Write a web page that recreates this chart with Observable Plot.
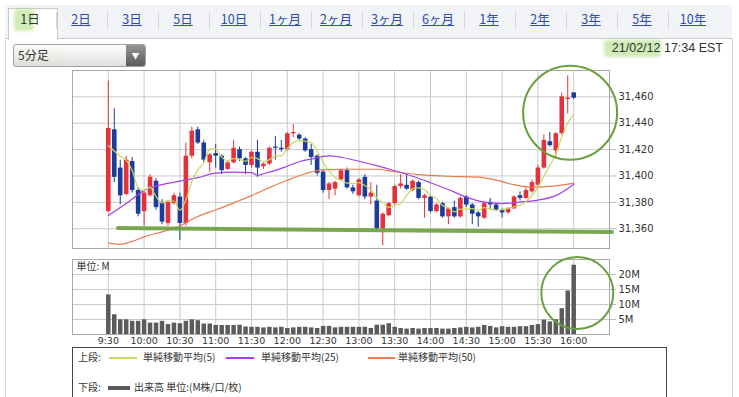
<!DOCTYPE html>
<html><head><meta charset="utf-8">
<script src="https://cdn.jsdelivr.net/npm/d3@7"></script>
<script src="https://cdn.jsdelivr.net/npm/@observablehq/plot@0.6"></script>
<style>
body{margin:0;width:739px;height:397px;overflow:hidden;position:relative;background:#fff;font-family:"Noto Sans CJK JP","Noto Sans",sans-serif;color:#333;}
.abs{position:absolute;}
#tabbar{left:5px;top:5px;width:727px;height:33px;background:#f1f3f6;border-bottom:1px solid #c9c9c9;}
.tab{position:absolute;top:11px;font-size:12.5px;line-height:16px;color:#2c4cae;text-decoration:underline;transform:translateX(-50%);white-space:nowrap;}
.sep{position:absolute;top:12px;width:1px;height:17px;background:#d3d6db;}
.hl{position:absolute;background:rgba(150,210,90,0.45);filter:blur(1.5px);border-radius:4px;}
#legend{left:72px;top:347px;width:593px;height:60px;border:1px solid #444;font-size:10px;color:#333;}
#legend span{position:absolute;white-space:nowrap;line-height:12px;}
#legend i{position:absolute;display:block;}
#err{position:absolute;left:80px;top:100px;font-size:11px;color:red;}
</style></head>
<body>
<div id="price" class="abs" style="left:0;top:40px;"></div>
<div id="vol" class="abs" style="left:0;top:252px;"></div>

<div class="abs" style="left:5px;top:38px;width:1px;height:359px;background:#dcdcdc"></div>
<div class="abs" style="left:732px;top:38px;width:1px;height:359px;background:#d0d0d0"></div>
<div id="tabbar" class="abs"></div>
<div class="abs" style="left:8px;top:8px;width:48px;height:31px;background:#fff;border:1px solid #c9c9c9;border-bottom:none;"></div>
<div class="hl" style="left:14px;top:9px;width:20px;height:22px;"></div>
<div id="tabs"></div>

<div class="hl" style="left:14px;top:46px;width:48px;height:20px;"></div>
<div class="abs" style="left:13px;top:44px;width:131px;height:21px;border:1px solid #9a9a9a;border-radius:3px;background:linear-gradient(#fdfdfd,#dedede);opacity:0.92">
  <div class="abs" style="right:0;top:0;width:19px;height:21px;background:linear-gradient(#8c8c8c,#4e4e4e);border-radius:0 2px 2px 0;color:#fff;font-size:8px;line-height:21px;text-align:center;">▼</div>
</div>
<div class="abs" style="left:18px;top:47px;font-size:12px;line-height:16px;color:#333;">5分足</div>

<div class="hl" style="left:604px;top:40px;width:57px;height:17px;"></div>
<div class="abs" style="right:16px;top:40px;font-family:'Liberation Sans',Arial,sans-serif;font-size:12.5px;line-height:16px;color:#333;">21/02/12 17:34 EST</div>

<div id="legend" class="abs">
  <span style="left:5px;top:3px">上段:</span>
  <i style="left:36px;top:9px;width:28px;height:1.5px;background:#c8d860"></i>
  <span style="left:70px;top:3px">単純移動平均(5)</span>
  <i style="left:153px;top:9px;width:28px;height:1.5px;background:#a341e6"></i>
  <span style="left:188px;top:3px">単純移動平均(25)</span>
  <i style="left:295px;top:9px;width:27px;height:1.5px;background:#ea7b4c"></i>
  <span style="left:325px;top:3px">単純移動平均(50)</span>
  <span style="left:5px;top:33px">下段:</span>
  <i style="left:35px;top:38px;width:22px;height:3.5px;background:#5b5b5b"></i>
  <span style="left:61px;top:33px">出来高 単位:(M株/口/枚)</span>
</div>
<div id="err"></div>

<script>
// ---- data ----
const tabLabels = ["1日","2日","3日","5日","10日","1ヶ月","2ヶ月","3ヶ月","6ヶ月","1年","2年","3年","5年","10年"];
const times = ["9:30","9:35","9:40","9:45","9:50","9:55","10:00","10:05","10:10","10:15","10:20","10:25","10:30","10:35","10:40","10:45","10:50","10:55","11:00","11:05","11:10","11:15","11:20","11:25","11:30","11:35","11:40","11:45","11:50","11:55","12:00","12:05","12:10","12:15","12:20","12:25","12:30","12:35","12:40","12:45","12:50","12:55","13:00","13:05","13:10","13:15","13:20","13:25","13:30","13:35","13:40","13:45","13:50","13:55","14:00","14:05","14:10","14:15","14:20","14:25","14:30","14:35","14:40","14:45","14:50","14:55","15:00","15:05","15:10","15:15","15:20","15:25","15:30","15:35","15:40","15:45","15:50","15:55","16:00"];
const openPrices = [31373,31435,31406,31386,31411,31389,31373,31385,31396,31380,31364,31379,31384,31364,31415,31435,31425,31410,31417,31415,31405,31410,31420,31413,31408,31418,31407,31409,31422,31421,31420,31432,31431,31428,31420,31415,31403,31389,31390,31397,31404,31391,31385,31399,31384,31381,31360,31370,31379,31392,31393,31389,31395,31383,31384,31373,31379,31369,31376,31369,31384,31378,31372,31368,31380,31378,31374,31372,31375,31385,31383,31388,31393,31406,31426,31419,31432,31458,31463];
const highPrices = [31472,31451,31412,31415,31414,31391,31389,31401,31398,31382,31381,31387,31387,31425,31437,31437,31427,31417,31424,31416,31411,31427,31422,31414,31419,31427,31410,31422,31430,31427,31433,31439,31432,31429,31424,31416,31404,31395,31396,31405,31406,31393,31398,31401,31395,31393,31372,31380,31393,31401,31402,31397,31396,31386,31385,31379,31380,31376,31381,31384,31385,31379,31373,31380,31383,31379,31375,31376,31385,31388,31391,31397,31408,31431,31433,31433,31463,31476,31463];
const lowPrices = [31372,31395,31378,31385,31387,31369,31362,31384,31374,31363,31362,31378,31351,31362,31413,31424,31410,31403,31406,31401,31404,31409,31411,31401,31406,31399,31405,31408,31412,31418,31419,31429,31427,31418,31408,31400,31387,31382,31385,31396,31390,31386,31384,31382,31378,31358,31347,31369,31378,31390,31389,31388,31382,31368,31372,31372,31368,31363,31368,31368,31376,31363,31361,31367,31374,31373,31368,31371,31375,31381,31382,31387,31392,31405,31422,31414,31431,31447,31458];
const closePrices = [31436,31399,31385,31412,31389,31371,31387,31399,31376,31365,31380,31385,31364,31415,31434,31425,31412,31416,31415,31404,31410,31421,31413,31408,31418,31406,31409,31421,31421,31420,31432,31433,31428,31419,31414,31402,31389,31394,31395,31404,31391,31388,31397,31384,31387,31360,31371,31379,31392,31394,31390,31396,31383,31385,31373,31378,31369,31375,31369,31383,31378,31371,31369,31379,31378,31374,31372,31375,31384,31383,31389,31395,31406,31427,31423,31432,31460,31459,31459];
const volumeM = [13.2,6.6,4.9,4.9,4.4,4.4,4.9,3.8,3.8,4.4,3.3,3.8,3.6,4.4,4.9,4.6,3.5,3.5,3.0,3.0,3.0,3.0,3.1,2.5,2.4,2.4,2.2,2.4,2.2,2.4,2.0,2.2,2.4,2.4,2.2,2.0,2.7,2.7,2.2,2.4,2.4,2.4,2.4,2.4,2.0,3.1,3.1,3.6,2.4,2.0,1.8,2.0,1.8,2.0,2.0,2.0,1.8,1.8,2.0,2.2,2.4,2.2,2.4,3.0,2.7,2.2,2.6,2.4,2.4,2.6,2.6,3.0,3.3,4.8,4.2,4.9,8.6,14.5,23.1];
const ma5Values = [31423,31419,31415,31412,31404.2,31391.2,31388.8,31391.6,31384.4,31379.6,31381.4,31381,31374,31381.8,31395.6,31404.6,31410,31420.4,31420.4,31414.4,31411.4,31413.2,31412.6,31411.2,31414,31413.2,31410.8,31412.4,31415,31415.4,31420.6,31425.4,31426.8,31426.4,31425.2,31419.2,31410.4,31403.6,31398.8,31396.8,31394.6,31394.4,31395,31392.8,31389.4,31383.2,31379.8,31376.2,31377.8,31379.2,31385.2,31390.2,31391,31389.6,31385.4,31383,31377.6,31376,31372.8,31374.8,31374.8,31375.2,31374,31376,31375,31374.2,31374.4,31375.6,31376.6,31377.6,31380.6,31385.2,31391.4,31400,31408,31416.6,31429.6,31440.2,31446.6];
const ma25Times = ["9:30","9:45","10:00","10:15","10:30","10:45","11:00","11:15","11:30","11:35","11:40","11:50","12:00","12:10","12:20","12:35","12:45","13:00","13:15","13:30","13:45","14:00","14:15","14:30","14:45","15:00","15:15","15:30","15:45","16:00"];
const ma25Values = [31370.0,31379.1,31388.9,31393.4,31396.1,31398.7,31402.1,31402.9,31402.5,31400.6,31401.7,31404.2,31407.4,31410.8,31412.8,31415.3,31414.2,31411.2,31407.8,31404.0,31399.8,31394.9,31389.7,31384.0,31380.2,31379.1,31380.2,31381.7,31385.1,31393.8];
const ma50Times = ["9:30","9:40","9:50","10:00","10:15","10:30","10:45","11:00","11:15","11:30","11:45","12:00","12:15","12:30","12:50","13:15","13:30","13:50","14:15","14:40","14:55","15:10","15:25","15:45","16:00"];
const ma50Values = [31349.3,31348.2,31350.4,31353.8,31357.6,31362.1,31369.3,31374.2,31379.6,31385.1,31391.2,31396.8,31401.7,31404.8,31405.1,31405.1,31403.2,31401.0,31399.8,31399.1,31396.8,31393.4,31391.5,31392.5,31394.6];
const timeTicks = ["9:30","10:00","10:30","11:00","11:30","12:00","12:30","13:00","13:30","14:00","14:30","15:00","15:30","16:00"];
const timeExtent = ["9:00","16:30"];
const priceTicks = [31360,31380,31400,31420,31440,31460];
const priceExtent = [31345,31480];
const volumeTicks = [5,10,15,20];
const volumeExtent = [0,25];
// hand-drawn annotations on the reference
const supportTimes = ["9:38","16:32"];
const supportPrices = [31360.5,31357.5];
const priceCircle = [{t:"15:57", p:31448}];
const volumeCircle = [{t:"16:03", v:13.8}];

try {
const UP = "#e3323c", DOWN = "#1b3c99", GRID = "#c9c9c9", FRAME = "#a8a8a8", GREEN = "#6b9e3e";
const C5 = "#c8d860", C25 = "#a341e6", C50 = "#ea7b4c";

const toMin = s => { const [h, m] = s.split(":").map(Number); return h * 60 + m; };
const labelOf = new Map(timeTicks.map(s => [toMin(s), s]));
const candles = times.map((s, i) => ({t: toMin(s), o: openPrices[i], h: highPrices[i], l: lowPrices[i], c: closePrices[i], v: volumeM[i], m5: ma5Values[i]}));
const col = d => d.c >= d.o ? UP : DOWN;
const ma25 = ma25Times.map((s, i) => ({t: toMin(s), y: ma25Values[i]}));
const ma50 = ma50Times.map((s, i) => ({t: toMin(s), y: ma50Values[i]}));
const support = supportTimes.map((s, i) => ({t: toMin(s), y: supportPrices[i]}));
const xDomain = timeExtent.map(toMin);
const tickMins = timeTicks.map(toMin);

const tabsEl = document.getElementById("tabs");
tabLabels.forEach((lab, i) => {
  const cx = 30 + i * 51.0;
  const d = document.createElement("div");
  d.className = "tab";
  d.style.left = cx + "px";
  d.textContent = lab;
  if (i === 0) { d.style.color = "#333"; d.style.textDecoration = "none"; }
  tabsEl.appendChild(d);
  if (i > 0) {
    const s = document.createElement("div");
    s.className = "sep"; s.style.left = (cx - 25.5) + "px";
    tabsEl.appendChild(s);
  }
});

const baseStyle = {background: "none", overflow: "visible", fontFamily: "DejaVu Sans, sans-serif", fontSize: "10px", color: "#333"};

const priceChart = Plot.plot({
  width: 739, height: 212, marginTop: 30, marginBottom: 4, marginLeft: 72, marginRight: 130,
  style: baseStyle,
  x: {domain: xDomain, axis: null},
  y: {domain: priceExtent, axis: null},
  marks: [
    Plot.gridX(tickMins, {stroke: GRID, strokeOpacity: 1}),
    Plot.gridY(priceTicks, {stroke: GRID, strokeOpacity: 1}),
    Plot.axisY(priceTicks, {anchor: "right", label: null, tickSize: 6, tickPadding: 3, stroke: "#bbb", fill: "#333", tickFormat: d3.format(",")}),
    Plot.ruleX(candles, {x: "t", y1: "l", y2: "h", stroke: col, strokeWidth: 1}),
    Plot.ruleX(candles, {x: "t", y1: "o", y2: "c", stroke: col, strokeWidth: 4.6}),
    Plot.line(ma50, {x: "t", y: "y", stroke: C50, strokeWidth: 1.2, curve: "monotone-x"}),
    Plot.line(ma25, {x: "t", y: "y", stroke: C25, strokeWidth: 1.2, curve: "monotone-x"}),
    Plot.line(candles, {x: "t", y: "m5", stroke: C5, strokeWidth: 1.2, curve: "monotone-x"}),
    Plot.frame({stroke: FRAME}),
    Plot.line(support, {x: "t", y: "y", stroke: GREEN, strokeWidth: 4, strokeLinecap: "round", strokeOpacity: 0.9}),
    Plot.dot(priceCircle, {x: d => toMin(d.t), y: "p", r: 47, stroke: GREEN, strokeWidth: 2, fill: "none"})
  ]
});
document.getElementById("price").appendChild(priceChart);

const volChart = Plot.plot({
  width: 739, height: 95, marginTop: 7, marginBottom: 13, marginLeft: 72, marginRight: 130,
  style: baseStyle,
  x: {domain: xDomain, axis: null},
  y: {domain: volumeExtent, axis: null},
  marks: [
    Plot.gridX(tickMins, {stroke: GRID, strokeOpacity: 1}),
    Plot.gridY(volumeTicks, {stroke: GRID, strokeOpacity: 1}),
    Plot.axisY(volumeTicks, {anchor: "right", label: null, tickSize: 6, tickPadding: 3, stroke: "#bbb", fill: "#333", tickFormat: d => d + "M"}),
    Plot.axisX(tickMins, {anchor: "bottom", label: null, tickSize: 0, tickPadding: 3, fill: "#333", fontSize: 9.5, tickFormat: d => labelOf.get(d)}),
    Plot.ruleX(candles, {x: "t", y1: 0, y2: "v", stroke: "#5b5b5b", strokeWidth: 4.5}),
    Plot.frame({stroke: FRAME}),
    Plot.text(["単位: M"], {frameAnchor: "top-left", dx: 4, dy: 3, lineAnchor: "top", textAnchor: "start", fontFamily: "Noto Sans CJK JP", fontSize: 10, fill: "#333"}),
    Plot.dot(volumeCircle, {x: d => toMin(d.t), y: "v", r: 36, stroke: GREEN, strokeWidth: 2, fill: "none"})
  ]
});
document.getElementById("vol").appendChild(volChart);
} catch (e) { document.getElementById("err").textContent = "ERR: " + e.message; }
</script>
</body></html>
